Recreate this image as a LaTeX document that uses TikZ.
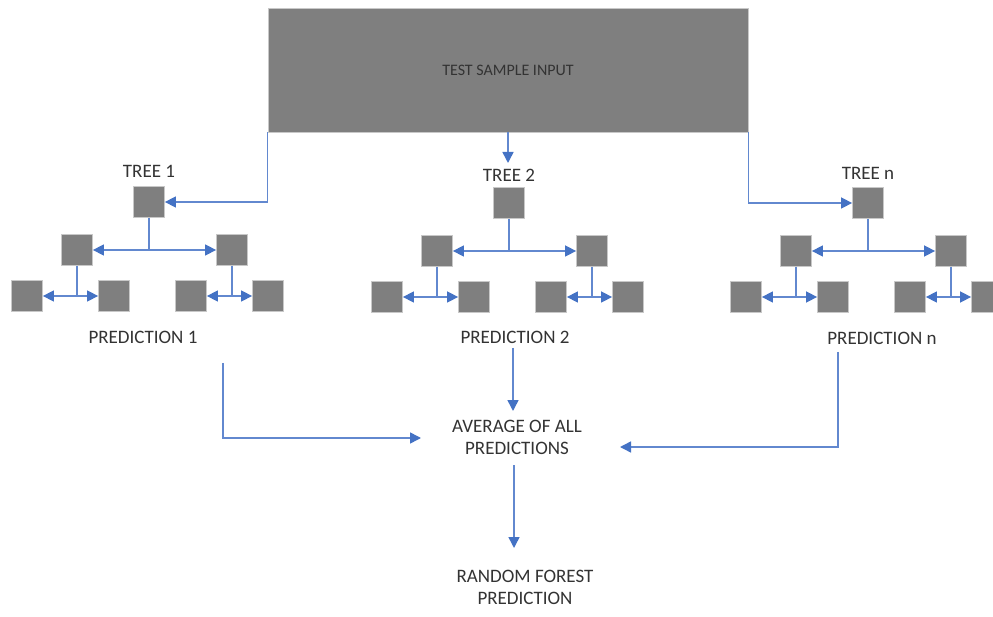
\documentclass[tikz,border=0pt]{standalone}
\usepackage{fontspec}
\setmainfont{Carlito}
\usetikzlibrary{arrows.meta,calc}
\definecolor{boxgray}{HTML}{7F7F7F}
\definecolor{edgegray}{HTML}{C8C8C8}
\definecolor{arrblue}{HTML}{4472C4}
\definecolor{lineblue}{HTML}{6288CF}
\definecolor{txt}{HTML}{333333}
\begin{document}
\begin{tikzpicture}[x=1pt,y=-1pt,
  sq/.style={draw=edgegray, line width=0.8pt, fill=boxgray, minimum size=31pt, inner sep=0pt},
  lbl/.style={text=txt, font=\fontsize{19}{22}\selectfont, inner sep=0pt, align=center},
  arr/.style={draw=lineblue, line width=1.5pt, -{Triangle[length=11pt,width=11pt,color=arrblue]}}]
\useasboundingbox (0,0) rectangle (993,617);
\fill[white] (0,0) rectangle (993,617);

% input box
\node[draw=edgegray, line width=0.8pt, fill=boxgray, minimum width=480pt, minimum height=124pt,
      inner sep=0pt, text=black!80, font=\fontsize{16}{19}\selectfont] (box) at (508,70) {TEST SAMPLE INPUT};

% trees
\foreach \k/\dx/\dy in {1/0/0,2/360/1,n/719/1} {
  \begin{scope}[shift={(\dx,\dy)}]
    \node[sq] (t\k r)  at (149,202) {};
    \node[sq] (t\k a)  at (77,250) {};
    \node[sq] (t\k b)  at (232,250) {};
    \node[sq] (t\k aa) at (27,296) {};
    \node[sq] (t\k ab) at (114,296) {};
    \node[sq] (t\k ba) at (191,296) {};
    \node[sq] (t\k bb) at (268,296) {};
    \draw[arr] (t\k r.south) |- (t\k a);
    \draw[arr] (t\k r.south) |- (t\k b);
    \draw[arr] (t\k a.south) |- (t\k aa);
    \draw[arr] (t\k a.south) |- (t\k ab);
    \draw[arr] (t\k b.south) |- (t\k ba);
    \draw[arr] (t\k b.south) |- (t\k bb);
  \end{scope}
}

% labels
\node[lbl] (l1) at (149,171) {TREE 1};
\node[lbl] (l2) at (509,175) {TREE 2};
\node[lbl] (ln) at (868,173) {TREE n};
\node[lbl] (p1) at (143,337) {PREDICTION 1};
\node[lbl] (p2) at (515,337) {PREDICTION 2};
\node[lbl] (pn) at (882,338) {PREDICTION n};
\node[lbl] (avg) at (517,437) {AVERAGE OF ALL\\PREDICTIONS};
\node[lbl] (rf) at (525,587) {RANDOM FOREST\\PREDICTION};

% connectors from input
\draw[arr] (box.south west) |- (t1r);
\coordinate (l2top) at (508,163);
\draw[arr] (box.south) -- (l2top);
\draw[arr] (box.south east) |- (tnr);

% connectors to average
\coordinate (p1out) at (223,363);
\coordinate (avgL) at (421,438);
\draw[arr] (p1out) |- (avgL);
\coordinate (p2out) at (513,348);
\coordinate (avgT) at (513,411);
\draw[arr] (p2out) -- (avgT);
\coordinate (pnout) at (838,352);
\coordinate (avgR) at (620,447);
\draw[arr] (pnout) |- (avgR);
\coordinate (avgout) at (514,465);
\coordinate (rfT) at (514,548);
\draw[arr] (avgout) -- (rfT);
\end{tikzpicture}
\end{document}
